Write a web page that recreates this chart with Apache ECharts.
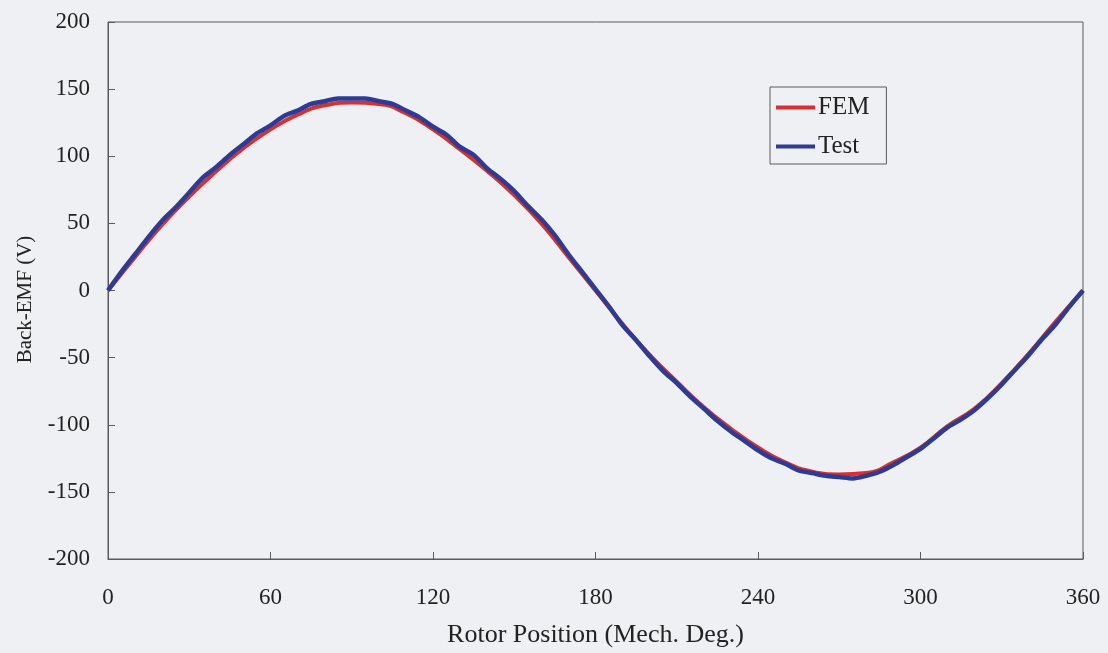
<!DOCTYPE html>
<html><head><meta charset="utf-8">
<script src="https://cdn.jsdelivr.net/npm/echarts@6/dist/echarts.min.js"></script>
<style>html,body{margin:0;padding:0;background:#eef0f3;}#c{width:1108px;height:653px;}</style>
</head><body><div id="c"></div>
<script>
const xTicks = [0, 60, 120, 180, 240, 300, 360];
const yTicks = [-200, -150, -100, -50, 0, 50, 100, 150, 200];
const femAngles = [0,10,20,30,40,50,60,70,80,90,100,110,120,130,140,150,160,170,180,190,200,210,220,230,240,250,260,270,280,290,300,310,320,330,340,350,360];
const femValues = [0,25,49,70,89,106,120,131,138,140,139,132,120,105,89,71,50,25,0,-25,-48,-68,-87,-103,-117,-128,-135,-137,-136,-128,-117,-101,-88,-69,-47,-23,0];
const testAngles = [0,5,10,15,20,25,30,35,40,45,50,55,60,65,70,75,80,85,90,95,100,105,110,115,120,125,130,135,140,145,150,155,160,165,170,175,180,185,190,195,200,205,210,215,220,225,230,235,240,245,250,255,260,265,270,275,280,285,290,295,300,305,310,315,320,325,330,335,340,345,350,355,360];
const testValues = [0,14,27,40,52,62,73,84,92,101,109,117,123,130,134,139,141,143,143,143,141,139,134,129,122,116,107,101,91,83,74,63,53,41,27,14,1,-12,-26,-37,-49,-60,-69,-79,-88,-97,-105,-112,-119,-125,-129,-134,-136,-138,-139,-140,-138,-135,-130,-124,-118,-110,-102,-96,-89,-80,-70,-59,-48,-36,-25,-12,0];

const fem = femAngles.map((a,i)=>[a,femValues[i]]);
const test = testAngles.map((a,i)=>[a,testValues[i]]);
const font = 'Liberation Serif';
const chart = echarts.init(document.getElementById('c'));
chart.setOption({
  backgroundColor: '#eef0f3',
  animation: false,
  grid: {left:108, right:25, top:22, bottom:93, show:true, borderColor:'#5a5a5a', borderWidth:1, backgroundColor:'transparent'},
  legend: {
    orient:'vertical', left:770, top:87, itemWidth:39, itemHeight:4, itemGap:14,
    padding:[8,17,5,6], borderColor:'#5a5a5a', borderWidth:1, backgroundColor:'#eef0f3',
    textStyle:{fontFamily:font, fontSize:25, color:'#222', padding:[0,0,0,-2]},
    data:[{name:'FEM', icon:'rect'},{name:'Test', icon:'rect'}]
  },
  xAxis: {
    type:'value', min:0, max:360, interval:60,
    name:'Rotor Position (Mech. Deg.)', nameLocation:'middle', nameGap:63,
    nameTextStyle:{fontFamily:font, fontSize:26, color:'#222'},
    axisLine:{show:true, onZero:false, lineStyle:{color:'#5a5a5a', width:1}},
    axisTick:{show:true, inside:true, length:7, lineStyle:{color:'#5a5a5a'}},
    axisLabel:{fontFamily:font, fontSize:23, color:'#222', margin:27, showMinLabel:true, showMaxLabel:true, formatter:v=>xTicks.includes(v)?String(v):''},
    splitLine:{show:false}
  },
  yAxis: {
    type:'value', min:-200, max:200, interval:50,
    name:'Back-EMF (V)', nameLocation:'middle', nameGap:72,
    nameTextStyle:{fontFamily:font, fontSize:21, color:'#222', padding:[0,0,0,-18]},
    axisLine:{show:true, onZero:false, lineStyle:{color:'#5a5a5a', width:1}},
    axisTick:{show:true, inside:true, length:7, lineStyle:{color:'#5a5a5a'}},
    axisLabel:{fontFamily:font, fontSize:23, color:'#222', margin:18, formatter:v=>yTicks.includes(v)?String(v):''},
    splitLine:{show:false}
  },
  series: [
    {name:'FEM', type:'line', data:fem, smooth:true, symbol:'none', color:'#d8302e', lineStyle:{width:4, color:'#d8302e'}, z:2},
    {name:'Test', type:'line', data:test, smooth:0.3, symbol:'none', color:'#2c3b98', lineStyle:{width:4.5, color:'#2c3b98'}, z:3}
  ]
});
</script></body></html>
